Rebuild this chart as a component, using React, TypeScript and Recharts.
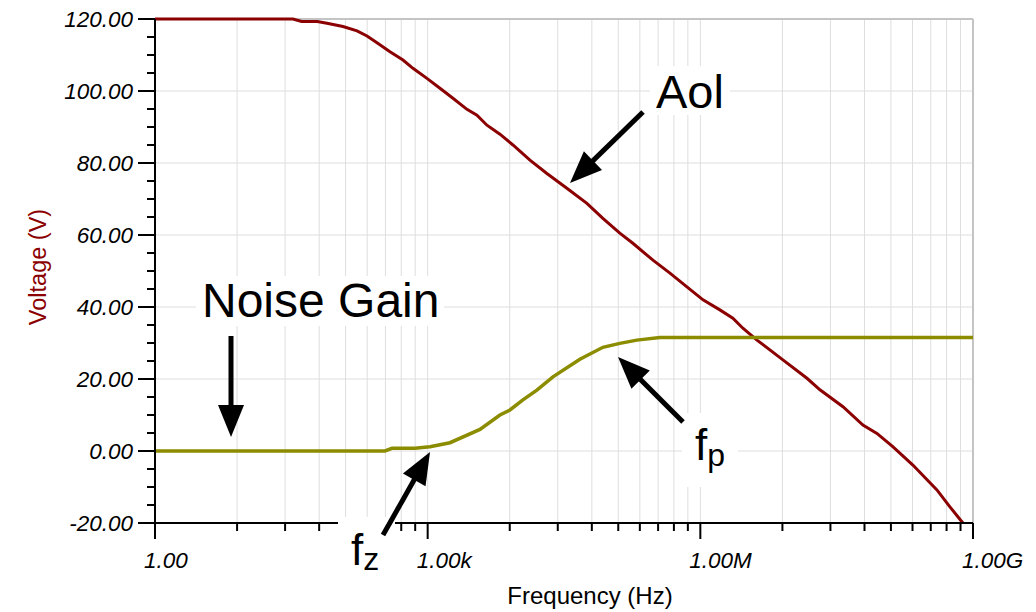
import React from "react";
import { LineChart, Line, XAxis, YAxis, CartesianGrid, ReferenceLine } from "recharts";

// Aol (open loop gain) trace
const aolFreq = [
  1, 33, 41, 61, 78, 117, 167, 215, 277, 385, 535, 689, 982, 1365, 1897, 2706, 3485, 4490, 6240, 8670,
  13350, 20500, 34000, 56500, 84700, 130000, 181000, 301000, 463000, 712000, 1.07e6, 1.64e6, 2.28e6,
  2.94e6, 4.2e6, 8.1e6, 1.49e7, 2.07e7, 3.71e7, 6.15e7, 8.77e7, 1.31e8, 2.18e8, 4.01e8, 5.57e8, 7.74e8,
];
const aolGain = [
  120, 120, 119.3, 119.3, 118.8, 117.9, 116.7, 115.3, 113.4, 110.9, 108.6, 106.3, 103.5, 100.75, 98, 94.9,
  93.3, 90.5, 88, 85, 80.8, 77.1, 73, 68.8, 64.6, 60.5, 57.7, 53, 49.4, 45.6, 42, 39.2, 36.9, 34.1, 30.8,
  25.3, 20.2, 17, 12.3, 7.2, 4.9, 1.2, -3.9, -10.8, -15.5, -20,
];

// noise gain trace
const ngFreq = [1, 339, 405, 725, 1060, 1760, 3760, 6240, 8040, 11170, 15900, 23900, 47300, 84700, 130000, 200500, 359000, 1e9];
const ngGain = [0, 0, 0.75, 0.75, 1.2, 2.3, 6, 10, 11.4, 14.2, 16.9, 20.6, 25.5, 28.8, 29.9, 30.8, 31.5, 31.5];

const majorFreq = [1, 1e3, 1e6, 1e9];
const majorLabels = ["1.00", "1.00k", "1.00M", "1.00G"];
const yMajor = [-20, 0, 20, 40, 60, 80, 100, 120];

const AOL = "#8b0000";
const NG = "#8c8c00";
const FONT = "'Liberation Sans', Arial, sans-serif";

// TINA-style minor ticks: 2..9 spaced like a decade inside each 3-decade step
const xTicks: number[] = [];
majorFreq.slice(0, 3).forEach((m) => {
  for (let k = 1; k <= 9; k++) xTicks.push(m * Math.pow(1000, Math.log10(k)));
});
xTicks.push(1e9);

const yTicks: number[] = [];
for (let v = -20; v <= 120; v += 5) yTicks.push(v);

const aolData = aolFreq.map((f, i) => ({ f, v: aolGain[i] }));
const ngData = ngFreq.map((f, i) => ({ f, v: ngGain[i] }));

function XTick(props: any) {
  const { x, y, payload } = props;
  const idx = majorFreq.findIndex((m) => Math.abs(m - payload.value) / m < 1e-6);
  const major = idx >= 0;
  return (
    <g>
      <line x1={x} y1={y} x2={x} y2={y + (major ? 16 : 8)} stroke="#000" strokeWidth={2} />
      {major && (
        <text x={x - 11} y={y + 45} fontSize={22.5} fontStyle="italic" fontFamily={FONT} fill="#000">
          {majorLabels[idx]}
        </text>
      )}
    </g>
  );
}

function YTick(props: any) {
  const { x, y, payload } = props;
  const major = payload.value % 20 === 0;
  return (
    <g>
      <line x1={x - (major ? 17 : 8)} y1={y} x2={x} y2={y} stroke="#000" strokeWidth={2} />
      {major && (
        <text x={x - 22} y={y + 8} textAnchor="end" fontSize={22.5} fontStyle="italic" fontFamily={FONT} fill="#000">
          {payload.value.toFixed(2)}
        </text>
      )}
    </g>
  );
}

function Arrow({ x1, y1, x2, y2 }: { x1: number; y1: number; x2: number; y2: number }) {
  const len = Math.hypot(x2 - x1, y2 - y1);
  const ux = (x2 - x1) / len;
  const uy = (y2 - y1) / len;
  const hl = 32;
  const hw = 13;
  const bx = x2 - ux * hl;
  const by = y2 - uy * hl;
  return (
    <g>
      <line x1={x1} y1={y1} x2={bx + ux * 2} y2={by + uy * 2} stroke="#000" strokeWidth={5} />
      <polygon
        points={`${x2},${y2} ${bx - uy * hw},${by + ux * hw} ${bx + uy * hw},${by - ux * hw}`}
        fill="#000"
      />
    </g>
  );
}

export default function App() {
  return (
    <div style={{ position: "absolute", left: 0, top: 0, width: 1036, height: 612, background: "#fff" }}>
      <LineChart width={1036} height={612} margin={{ top: 19, right: 63, bottom: 0, left: 0 }}>
        <CartesianGrid horizontal={false} stroke="#dedede" strokeWidth={1} />
        {yMajor.map((v) => (
          <ReferenceLine key={v} y={v} stroke={v === 120 ? "#c4c4c4" : "#dedede"} strokeWidth={v === 120 ? 2 : 1} />
        ))}
        <ReferenceLine x={1e9} stroke="#c4c4c4" strokeWidth={2} />
        <XAxis
          dataKey="f"
          type="number"
          scale="log"
          domain={[1, 1e9]}
          allowDataOverflow
          ticks={xTicks}
          interval={0}
          height={89}
          tickSize={0}
          tickMargin={0}
          tick={<XTick />}
          axisLine={{ stroke: "#000", strokeWidth: 2 }}
        />
        <YAxis
          type="number"
          domain={[-20, 120]}
          ticks={yTicks}
          interval={0}
          width={155}
          tickSize={0}
          tickMargin={0}
          tick={<YTick />}
          axisLine={{ stroke: "#000", strokeWidth: 2 }}
        />
        <Line data={aolData} dataKey="v" type="linear" stroke={AOL} strokeWidth={3} dot={false} isAnimationActive={false} />
        <Line data={ngData} dataKey="v" type="linear" stroke={NG} strokeWidth={3.5} dot={false} isAnimationActive={false} />
      </LineChart>

      <svg
        width={1036}
        height={612}
        style={{ position: "absolute", left: 0, top: 0, pointerEvents: "none" }}
        fontFamily={FONT}
      >
        <text x={590} y={604} textAnchor="middle" fontSize={24} fill="#000">
          Frequency (Hz)
        </text>
        <text
          x={38}
          y={267}
          transform="rotate(-90 38 267)"
          textAnchor="middle"
          dominantBaseline="central"
          fontSize={23.5}
          fill={AOL}
        >
          Voltage (V)
        </text>

        <rect x={650} y={66} width={80} height={49} fill="#fff" />
        <text x={656} y={108} fontSize={47} fill="#000">Aol</text>
        <Arrow x1={643} y1={112} x2={570} y2={183} />

        <rect x={196} y={276} width={248} height={50} fill="#fff" />
        <text x={202} y={317} fontSize={48} fill="#000">Noise Gain</text>
        <Arrow x1={231} y1={336} x2={231} y2={437} />

        <rect x={338} y={517} width={57} height={62} fill="#fff" />
        <text x={351} y={565} fontSize={44} fill="#000">
          f<tspan fontSize={32} dy={5}>z</tspan>
        </text>
        <Arrow x1={383} y1={535} x2={430} y2={452} />

        <rect x={682} y={413} width={56} height={74} fill="#fff" />
        <text x={695} y={460} fontSize={44} fill="#000">
          f<tspan fontSize={32} dy={6}>p</tspan>
        </text>
        <Arrow x1={683} y1={422} x2={618} y2={357} />
      </svg>
    </div>
  );
}
